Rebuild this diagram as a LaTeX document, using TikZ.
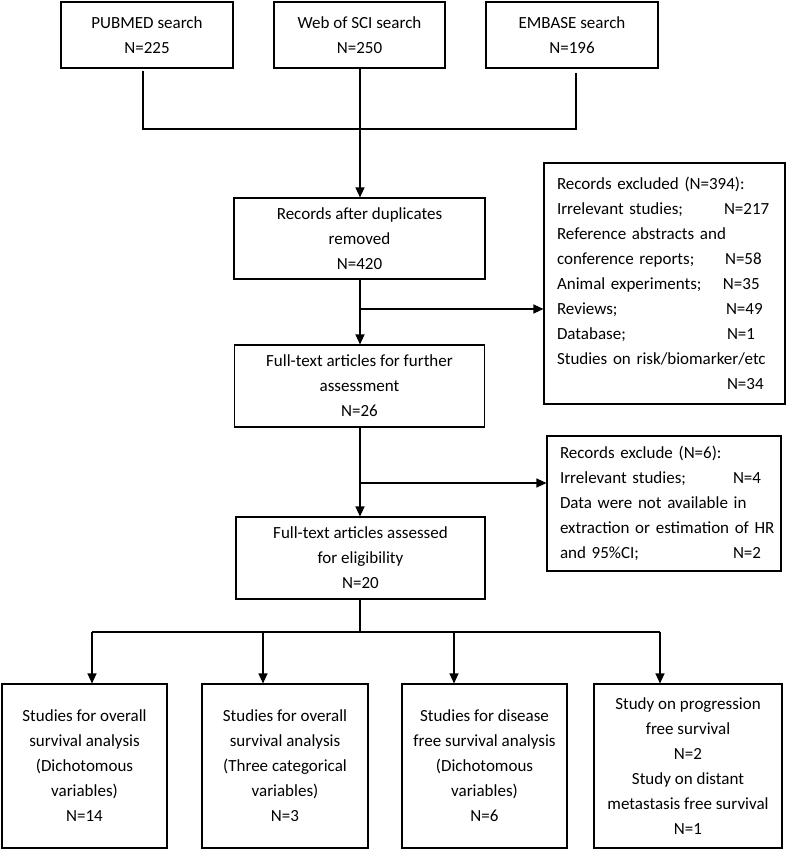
\documentclass[tikz,border=0pt]{standalone}
\usepackage{fontspec}
\setmainfont{Carlito}
\usetikzlibrary{arrows.meta}
\newcommand{\exrow}[3]{\mbox{\makebox[#1][l]{#2}#3}}
\begin{document}
\begin{tikzpicture}[x=1pt,y=-1pt,
  box/.style={draw, line width=1.1pt, inner sep=0pt, align=center,
    font=\fontsize{17}{25}\selectfont},
  lbox/.style={draw, line width=1.1pt, inner ysep=0pt, inner xsep=13pt, align=left,
    font=\fontsize{17}{25}\selectfont},
  link/.style={line width=1.1pt},
  arr/.style={line width=1.1pt, -{Triangle[length=10pt,width=9pt]}}]
\useasboundingbox (0,0) rectangle (787,851);

% top search boxes
\node[box, minimum width=172pt, minimum height=66pt] (pub) at (147,35) {PUBMED search\\N=225};
\node[box, minimum width=171pt, minimum height=66pt] (web) at (359.5,35) {Web of SCI search\\N=250};
\node[box, minimum width=172pt, minimum height=66pt] (emb) at (572,35) {EMBASE search\\N=196};

% main column
\node[box, minimum width=251pt, minimum height=81pt] (rec) at (359.5,238.5) {Records after duplicates\\removed\\N=420};
\node[box, minimum width=250pt, minimum height=82pt] (full) at (359.5,386) {Full-text articles for further\\assessment\\N=26};
\node[box, minimum width=249pt, minimum height=82pt] (elig) at (360.5,558) {Full-text articles assessed\\for eligibility\\N=20};

% exclusion boxes
\node[lbox, text width=215pt, minimum height=241pt] (ex1) at (664.5,283.5) {\mbox{Records excluded (N=394):}\\
\exrow{167pt}{Irrelevant studies;}{N=217}\\
\mbox{Reference abstracts and}\\
\exrow{168pt}{conference reports;}{N=58}\\
\exrow{166pt}{Animal experiments;}{N=35}\\
\exrow{169pt}{Reviews;}{N=49}\\
\exrow{170pt}{Database;}{N=1}\\
\mbox{Studies on risk/biomarker/etc}\\
\exrow{170pt}{}{N=34}};
\node[lbox, text width=208pt, minimum height=135pt] (ex2) at (664,503.5) {\mbox{Records exclude (N=6):}\\
\exrow{173pt}{Irrelevant studies;}{N=4}\\
\mbox{Data were not available in}\\
\mbox{extraction or estimation of HR}\\
\exrow{173pt}{and 95\%CI;}{N=2}};

% outcome boxes
\node[box, minimum width=165pt, minimum height=164pt] (o1) at (84.5,766) {Studies for overall\\survival analysis\\(Dichotomous\\variables)\\N=14};
\node[box, minimum width=166pt, minimum height=164pt] (o2) at (285,766) {Studies for overall\\survival analysis\\(Three categorical\\variables)\\N=3};
\node[box, minimum width=165pt, minimum height=164pt] (o3) at (484.5,766) {Studies for disease\\free survival analysis\\(Dichotomous\\variables)\\N=6};
\node[box, minimum width=188pt, minimum height=164pt] (o4) at (688,766) {Study on progression\\free survival\\N=2\\Study on distant\\metastasis free survival\\N=1};

% junction coordinates
\coordinate (jl) at (143,129);
\coordinate (jr) at (576,129);
\coordinate (b1) at (360,309);
\coordinate (b2) at (360,483);
\coordinate (b3) at (360,632);
\coordinate (a1) at (92,632);
\coordinate (a2) at (263,632);
\coordinate (a3) at (454,632);
\coordinate (a4) at (660,632);

% connectors
\draw[link] ([yshift=-2pt]pub.south -| jl) -- (jl) -- (jr) -- ([yshift=-4pt]emb.south -| jr);
\draw[arr] (web.south -| b1) -- (rec.north -| b1);
\draw[arr] (rec.south -| b1) -- (full.north -| b1);
\draw[arr] (b1) -- (ex1.west |- b1);
\draw[arr] (full.south -| b2) -- (elig.north -| b2);
\draw[arr] (b2) -- (ex2.west |- b2);
\draw[link] (elig.south -| b3) -- (b3);
\draw[link] (a1) -- (a4);
\draw[arr] (a1) -- (o1.north -| a1);
\draw[arr] (a2) -- (o2.north -| a2);
\draw[arr] (a3) -- (o3.north -| a3);
\draw[arr] (a4) -- (o4.north -| a4);
\end{tikzpicture}
\end{document}
